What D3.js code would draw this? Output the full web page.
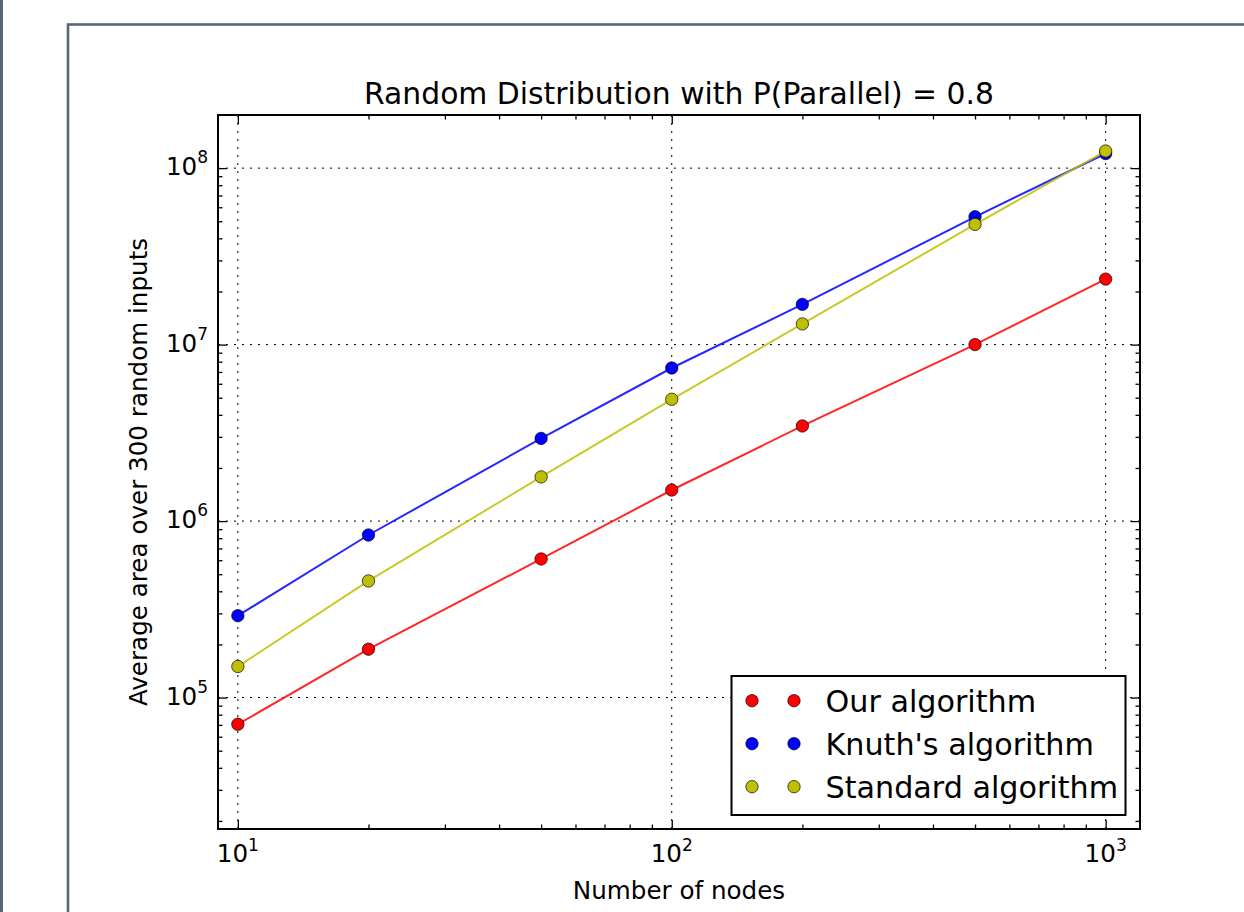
<!DOCTYPE html>
<html>
<head>
<meta charset="utf-8">
<script src="https://cdn.jsdelivr.net/npm/d3@7"></script>
<style>
body { margin: 0; background: #fff; }
svg text { font-family: "DejaVu Sans", sans-serif; fill: #000; }
</style>
</head>
<body>
<script>
// data
const nodes = [10, 20, 50, 100, 200, 500, 1000];
const ourAlgorithm = [7.06e4, 1.88e5, 6.1e5, 1.5e6, 3.46e6, 1.0e7, 2.35e7];
const knuthAlgorithm = [2.91e5, 8.34e5, 2.94e6, 7.37e6, 1.69e7, 5.3e7, 1.21e8];
const standardAlgorithm = [1.5e5, 4.58e5, 1.78e6, 4.9e6, 1.31e7, 4.8e7, 1.25e8];
const seriesNames = ["Our algorithm", "Knuth's algorithm", "Standard algorithm"];
const seriesColors = ["#ff0000", "#0000ff", "#bfbf00"];
const xMajor = [10, 100, 1000];
const xExp = ["1", "2", "3"];
const yMajor = [1e5, 1e6, 1e7, 1e8];
const yExp = ["5", "6", "7", "8"];

const W = 1244, H = 912;
const margin = { top: 115, right: 104, bottom: 83, left: 218 };
const pLeft = margin.left, pRight = W - margin.right;
const pTop = margin.top, pBottom = H - margin.bottom;

const x = d3.scaleLog().domain([9, 1200]).range([pLeft, pRight]);
const y = d3.scaleLog().domain([1.8e4, 2e8]).range([pBottom, pTop]);

const series = [ourAlgorithm, knuthAlgorithm, standardAlgorithm].map((vals, i) => ({
    name: seriesNames[i],
    color: seriesColors[i],
    points: nodes.map((n, j) => [n, vals[j]])
}));

// minor ticks 2..9 per decade, inside the domain only
function minors(scale) {
    const [a, b] = scale.domain();
    const out = [];
    for (let e = Math.floor(Math.log10(a)); e <= Math.ceil(Math.log10(b)); e++) {
        for (let m = 2; m <= 9; m++) {
            const v = m * Math.pow(10, e);
            if (v > a * 1.01 && v < b * 0.99) out.push(v);
        }
    }
    return out;
}

const svg = d3.select("body").append("svg")
    .attr("width", W)
    .attr("height", H);

// window frame of the screenshot
svg.append("rect")
    .attr("x", 0).attr("y", 0)
    .attr("width", 3).attr("height", H)
    .attr("fill", "#5b6579");
svg.append("rect")
    .attr("x", 68).attr("y", 24.5)
    .attr("width", 1400).attr("height", 1200)
    .attr("fill", "none")
    .attr("stroke", "#5b6579")
    .attr("stroke-width", 2.6);

// grid
const grid = svg.append("g").attr("class", "grid");
grid.selectAll(".gx")
    .data(xMajor)
  .enter().append("line")
    .attr("x1", d => x(d)).attr("x2", d => x(d))
    .attr("y1", pTop).attr("y2", pBottom);
grid.selectAll(".gy")
    .data(yMajor)
  .enter().append("line")
    .attr("x1", pLeft).attr("x2", pRight)
    .attr("y1", d => y(d)).attr("y2", d => y(d));
grid.selectAll("line")
    .attr("stroke", "#000")
    .attr("stroke-width", 1)
    .attr("stroke-dasharray", "2,6");

// lines and markers
const line = d3.line()
    .x(d => x(d[0]))
    .y(d => y(d[1]));

series.forEach(s => {
    svg.append("path")
        .datum(s.points)
        .attr("d", line)
        .attr("fill", "none")
        .attr("stroke", s.color)
        .attr("stroke-opacity", 0.85)
        .attr("stroke-width", 2);
    svg.append("g")
        .selectAll("circle")
        .data(s.points)
      .enter().append("circle")
        .attr("cx", d => x(d[0]))
        .attr("cy", d => y(d[1]))
        .attr("r", 6.2)
        .attr("fill", s.color)
        .attr("stroke", "#000")
        .attr("stroke-opacity", 0.75)
        .attr("stroke-width", 0.9);
});

// ticks on all four sides, pointing inward
function ticks(axis, tx, ty, values, size) {
    const g = svg.append("g")
        .attr("transform", "translate(" + tx + "," + ty + ")")
        .call(axis.tickValues(values).tickSize(-size).tickFormat(""));
    g.select(".domain").remove();
    g.selectAll("line").attr("stroke", "#000").attr("stroke-width", 1.3);
}
ticks(d3.axisBottom(x), 0, pBottom, xMajor, 9);
ticks(d3.axisBottom(x), 0, pBottom, minors(x), 4.5);
ticks(d3.axisTop(x), 0, pTop, xMajor, 9);
ticks(d3.axisTop(x), 0, pTop, minors(x), 4.5);
ticks(d3.axisLeft(y), pLeft, 0, yMajor, 9);
ticks(d3.axisLeft(y), pLeft, 0, minors(y), 4.5);
ticks(d3.axisRight(y), pRight, 0, yMajor, 9);
ticks(d3.axisRight(y), pRight, 0, minors(y), 4.5);

svg.append("rect")
    .attr("x", pLeft).attr("y", pTop)
    .attr("width", pRight - pLeft).attr("height", pBottom - pTop)
    .attr("fill", "none")
    .attr("stroke", "#000")
    .attr("stroke-width", 2);

// tick labels as 10^n
const xl = svg.append("g").selectAll("text")
    .data(xMajor)
  .enter().append("text")
    .attr("x", d => x(d))
    .attr("y", pBottom + 33)
    .attr("text-anchor", "middle")
    .style("font-size", "24.6px");
xl.append("tspan").text("10");
xl.append("tspan").attr("dy", -11).style("font-size", "17px").text((d, i) => xExp[i]);

const yl = svg.append("g").selectAll("text")
    .data(yMajor)
  .enter().append("text")
    .attr("x", pLeft - 10)
    .attr("y", d => y(d) + 7)
    .attr("text-anchor", "end")
    .style("font-size", "24.6px");
yl.append("tspan").text("10");
yl.append("tspan").attr("dy", -12).style("font-size", "17px").text((d, i) => yExp[i]);

// titles
svg.append("text")
    .attr("x", (pLeft + pRight) / 2)
    .attr("y", 104)
    .attr("text-anchor", "middle")
    .style("font-size", "29.8px")
    .text("Random Distribution with P(Parallel) = 0.8");

svg.append("text")
    .attr("x", (pLeft + pRight) / 2)
    .attr("y", 899)
    .attr("text-anchor", "middle")
    .style("font-size", "24.6px")
    .text("Number of nodes");

svg.append("text")
    .attr("transform", "translate(147," + (pTop + pBottom) / 2 + ") rotate(-90)")
    .attr("text-anchor", "middle")
    .style("font-size", "24.6px")
    .text("Average area over 300 random inputs");

// legend, two markers per entry
const legend = svg.append("g").attr("transform", "translate(731.5,676)");
legend.append("rect")
    .attr("width", 394).attr("height", 139)
    .attr("fill", "#fff")
    .attr("stroke", "#000")
    .attr("stroke-width", 2);
const rows = legend.selectAll(".row")
    .data(series)
  .enter().append("g")
    .attr("transform", (d, i) => "translate(0," + (24.7 + i * 43) + ")");
rows.selectAll("circle")
    .data(d => [d, d])
  .enter().append("circle")
    .attr("cx", (d, i) => 20.5 + i * 42)
    .attr("cy", 0)
    .attr("r", 6.2)
    .attr("fill", d => d.color)
    .attr("stroke", "#000")
    .attr("stroke-opacity", 0.75)
    .attr("stroke-width", 0.9);
rows.append("text")
    .attr("x", 94)
    .attr("y", 10.8)
    .style("font-size", "30.2px")
    .text(d => d.name);
</script>
</body>
</html>
